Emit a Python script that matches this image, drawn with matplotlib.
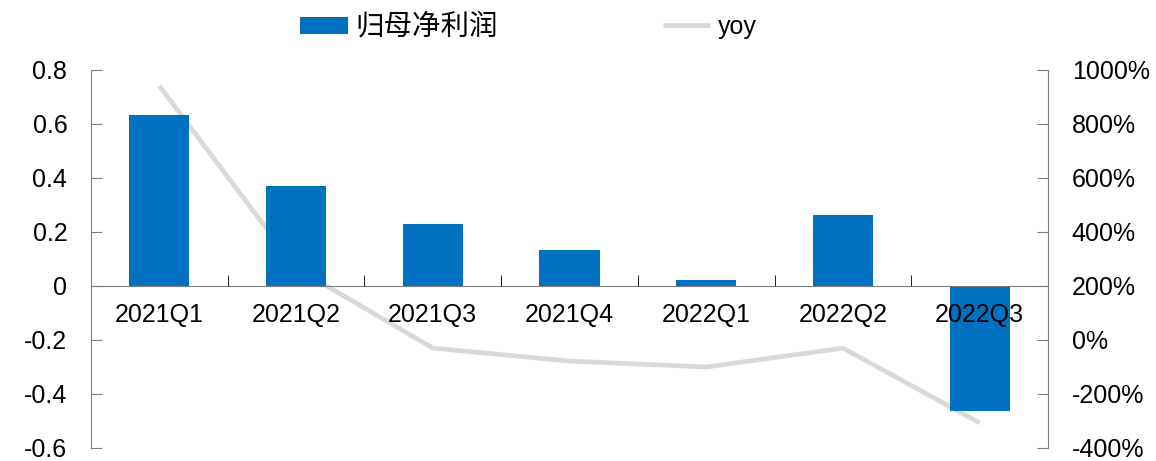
import numpy as np
import matplotlib.pyplot as plt

plt.rcParams['font.family'] = ['Liberation Sans', 'Noto Sans CJK SC', 'DejaVu Sans']

quarters = ['2021Q1', '2021Q2', '2021Q3', '2021Q4', '2022Q1', '2022Q2', '2022Q3']
net_profit = [0.635, 0.37, 0.23, 0.133, 0.022, 0.263, -0.463]   # 归母净利润
yoy = [9.41, 2.67, -0.30, -0.78, -1.00, -0.30, -3.07]           # 同比

bar_color = '#0070C0'
line_color = '#D9D9D9'
axis_color = '#7F7F7F'
fs = 18

fig = plt.figure(figsize=(11.56, 4.61), dpi=100)
ax = fig.add_axes([0.0787, 0.0282, 0.8279, 0.8200])
x = np.arange(len(quarters))

bars = ax.bar(x, net_profit, width=0.44, color=bar_color, label='归母净利润', zorder=2)
ax.set_xlim(-0.5, len(quarters) - 0.5)
ax.set_ylim(-0.6, 0.8)
ax.set_yticks(np.arange(-0.6, 0.81, 0.2))
ax.set_yticklabels(['-0.6', '-0.4', '-0.2', '0', '0.2', '0.4', '0.6', '0.8'])
ax.set_axisbelow(False)

for s in ['top', 'right']:
    ax.spines[s].set_visible(False)
ax.spines['left'].set_color(axis_color)
ax.spines['bottom'].set_color(axis_color)
ax.spines['bottom'].set_position(('data', 0))
ax.tick_params(axis='y', direction='in', length=8, color=axis_color, labelsize=fs, pad=17)

ax.set_xticks(x)
ax.set_xticklabels(quarters)
ax.set_xticks(np.arange(0.5, len(quarters) - 1, 1), minor=True)
ax.tick_params(axis='x', which='major', length=0, labelsize=fs, pad=12)
ax.tick_params(axis='x', which='minor', direction='in', length=8, color='black')

ax2 = ax.twinx()
ax2.plot(x, yoy, color=line_color, lw=3.4, label='yoy', solid_capstyle='butt')
ax2.set_ylim(-4, 10)
ax2.set_yticks(np.arange(-4, 10.1, 2))
ax2.set_yticklabels([f'{int(v * 100)}%' for v in np.arange(-4, 10.1, 2)])
for s in ['top', 'left', 'bottom']:
    ax2.spines[s].set_visible(False)
ax2.spines['right'].set_color(axis_color)
ax2.tick_params(axis='y', direction='in', length=8, color=axis_color, labelsize=fs, pad=17)
ax.set_zorder(ax2.get_zorder() + 1)
ax.patch.set_visible(False)

handles = [bars, ax2.get_lines()[0]]
leg = fig.legend(handles, ['归母净利润', 'yoy'], loc='upper center', bbox_to_anchor=(0.457, 1.02),
                 ncol=2, frameon=False, fontsize=fs, handlelength=1.9, handleheight=0.7,
                 handletextpad=0.3, columnspacing=6.6)
leg.get_texts()[0].set_fontsize(20.5)

fig.savefig('out.png', dpi=100)
